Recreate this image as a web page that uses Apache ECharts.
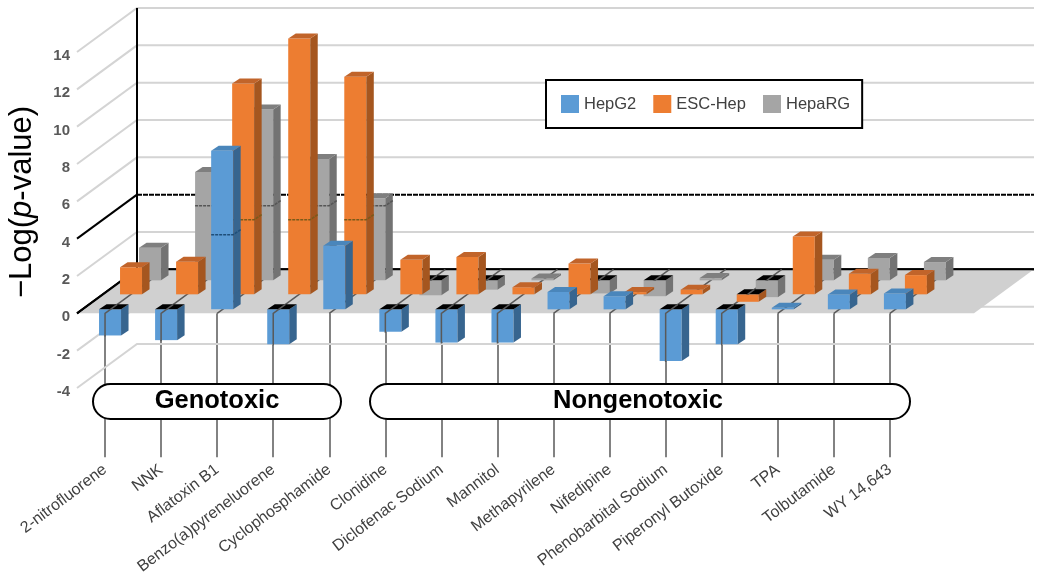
<!DOCTYPE html>
<html>
<head>
<meta charset="utf-8">
<script src="https://cdn.jsdelivr.net/npm/echarts@6/dist/echarts.min.js"></script>
<style>
  html, body { margin: 0; padding: 0; background: #fff; }
  #chart { width: 1050px; height: 584px; }
</style>
</head>
<body>
<div id="chart"></div>
<script>
// last category is blank, the original floor runs one slot past WY 14,643
const categories = ["2-nitrofluorene", "NNK", "Aflatoxin B1", "Benzo(a)pyreneluorene", "Cyclophosphamide", "Clonidine", "Diclofenac Sodium", "Mannitol", "Methapyrilene", "Nifedipine", "Phenobarbital Sodium", "Piperonyl Butoxide", "TPA", "Tolbutamide", "WY 14,643", ""];
const hepG2 = [-1.4, -1.65, 8.5, -1.87, 3.4, -1.2, -1.78, -1.78, 0.93, 0.7, -2.77, -1.87, 0.08, 0.8, 0.85];
const escHep = [1.45, 1.75, 11.3, 13.7, 11.65, 1.85, 2.0, 0.38, 1.65, 0.12, 0.25, -0.4, 3.1, 1.1, 1.03];
const hepaRG = [1.75, 5.8, 9.15, 6.5, 4.4, -0.8, -0.5, 0.1, -0.7, -0.85, 0.12, -0.9, 1.1, 1.2, 0.98];
const yTicks = [-4, -2, 0, 2, 4, 6, 8, 10, 12, 14];
const darkTicks = [0, 4];
const bandValue = 4;

const depthX = 60, depthY = -44;   // floor depth in px
const barW = 22, sideX = 7.5, sideY = -5;

function poly(points, color, extra) {
  return Object.assign({ type: "polygon", shape: { points: points }, style: { fill: color } }, extra || {});
}
function seg(points, color, width, dash) {
  return {
    type: "polyline",
    shape: { points: points },
    style: { fill: null, stroke: color, lineWidth: width, lineDash: dash || null },
  };
}

function barRenderer(look) {
  return function (params, api) {
    const i = api.value(0), v = api.value(1);
    const p0 = api.coord([i, 0]), pv = api.coord([i, v]);
    const x0 = p0[0] + look.dx, x1 = x0 + barW;
    const yBase = p0[1] + look.dy, yVal = pv[1] + look.dy;
    const yTop = Math.min(yBase, yVal), yBot = Math.max(yBase, yVal);
    const kids = [
      poly([[x0, yTop], [x1, yTop], [x1, yBot], [x0, yBot]], look.front),
      poly([[x1, yTop], [x1 + sideX, yTop + sideY], [x1 + sideX, yBot + sideY], [x1, yBot]], look.side),
      poly([[x0, yTop], [x0 + sideX, yTop + sideY], [x1 + sideX, yTop + sideY], [x1, yTop]], v < 0 ? "#000" : look.top),
    ];
    if (v > bandValue) {
      const yb = api.coord([i, bandValue])[1] + look.dy;
      kids.push(seg([[x0, yb], [x1, yb], [x1 + sideX, yb + sideY]], look.band, 1.5, [3, 1]));
    }
    if (v < 0) {
      // floor line and tick stay visible over a negative bar
      const t0 = look.dy / depthY, t1 = (look.dy + sideY) / depthY;
      const pts = [[p0[0] + depthX * t0, p0[1] + depthY * t0], [p0[0] + depthX * t1, p0[1] + depthY * t1]];
      if (look.tickOver) pts.unshift([p0[0], yBot + 1], p0);
      kids.push(seg(pts, "#595959", 1.5));
    }
    return { type: "group", children: kids };
  };
}

const chart = echarts.init(document.getElementById("chart"));

const wallSeries = {
  type: "custom",
  z: 1,
  silent: true,
  data: yTicks.map((t) => [0, t]),
  encode: { x: 0, y: 1 },
  renderItem: function (params, api) {
    const t = api.value(1);
    const sys = params.coordSys;
    const y = api.coord([0, t])[1];
    const dark = darkTicks.indexOf(t) >= 0;
    const a = [sys.x, y], b = [sys.x + depthX, y + depthY], c = [sys.x + sys.width + depthX, y + depthY];
    if (dark) {
      return {
        type: "group",
        children: [seg([a, b], "#000", 2), seg([b, c], "#000", 2, t === 4 ? [5, 1] : null)],
      };
    }
    return seg([a, b, c], "#d4d4d4", 2);
  },
};

const floorSeries = {
  type: "custom",
  z: 1,
  silent: true,
  data: [[0, 0]],
  encode: { x: 0, y: 1 },
  renderItem: function (params, api) {
    const sys = params.coordSys;
    const y0 = api.coord([0, 0])[1];
    const l = sys.x, r = sys.x + sys.width;
    const kids = [
      poly([[l + 2, y0], [r, y0], [r + depthX, y0 + depthY], [l + depthX, y0 + depthY]], "#d0d0d0"),
      seg([[l, y0], [l + depthX, y0 + depthY], [r + depthX, y0 + depthY]], "#000", 2),
      seg([[l + depthX, y0 + depthY], [l + depthX, api.coord([0, 14])[1] + depthY]], "#000", 2),
    ];
    categories.forEach(function (name, i) {
      if (!name) return;
      const p = api.coord([i, 0]);
      kids.push(seg([p, [p[0] + depthX, p[1] + depthY]], "#595959", 1.5));
    });
    return { type: "group", children: kids };
  },
};

function barSeries(name, values, z, look) {
  return {
    name: name,
    type: "custom",
    z: z,
    itemStyle: { color: look.legend },
    data: values.map((v, i) => [i, v]),
    encode: { x: 0, y: 1 },
    renderItem: barRenderer(look),
  };
}

const option = {
  animation: false,
  backgroundColor: "#fff",
  textStyle: { fontFamily: "Liberation Sans" },
  grid: { left: 77, top: 52, width: 897, height: 336, outerBoundsMode: "none" },
  legend: {
    data: ["HepG2", "ESC-Hep", "HepaRG"],
    left: 546,
    top: 80,
    orient: "horizontal",
    icon: "rect",
    itemWidth: 18,
    itemHeight: 18,
    itemGap: 17,
    padding: [15, 12, 15, 15],
    backgroundColor: "#fff",
    borderColor: "#000",
    borderWidth: 2,
    selectedMode: false,
    textStyle: { color: "#404040", fontSize: 16.5, fontFamily: "Liberation Sans" },
  },
  xAxis: {
    type: "category",
    data: categories,
    axisLine: { show: false, onZero: true },
    axisTick: {
      show: true,
      alignWithLabel: true,
      length: 144,
      interval: (idx, val) => val !== "",
      lineStyle: { color: "#595959", width: 1.5 },
    },
    axisLabel: {
      interval: 0,
      rotate: 37,
      margin: 80,
      color: "#404040",
      fontSize: 16,
      hideOverlap: false,
    },
  },
  yAxis: {
    type: "value",
    min: -4,
    max: 14,
    interval: 2,
    axisLine: { show: false },
    axisTick: { show: false },
    splitLine: { show: false },
    axisLabel: {
      margin: 7,
      formatter: "{v|{value}}",
      rich: { v: { color: "#595959", fontSize: 15, fontWeight: "bold", padding: [8, 0, 0, 0] } },
    },
    name: "{a|\u2212Log(}{b|p}{a|-value)}",
    nameLocation: "middle",
    nameGap: 39,
    nameTextStyle: {
      padding: [0, 0, 0, 36],
      rich: {
        a: { fontSize: 31, color: "#000", fontFamily: "Liberation Sans" },
        b: { fontSize: 31, color: "#000", fontStyle: "italic", fontFamily: "Liberation Sans" },
      },
    },
  },
  graphic: {
    elements: [
      { type: "rect", z: 20, shape: { x: 93, y: 384, width: 248, height: 35, r: 17.5 }, style: { fill: "#fff", stroke: "#000", lineWidth: 2 } },
      { type: "rect", z: 20, shape: { x: 370, y: 384, width: 540, height: 35, r: 17.5 }, style: { fill: "#fff", stroke: "#000", lineWidth: 2 } },
      { type: "text", z: 21, x: 217, y: 401, style: { text: "Genotoxic", fill: "#000", font: "bold 25.5px Liberation Sans", align: "center", verticalAlign: "middle" } },
      { type: "text", z: 21, x: 638, y: 401, style: { text: "Nongenotoxic", fill: "#000", font: "bold 25.5px Liberation Sans", align: "center", verticalAlign: "middle" } },
    ],
  },
  series: [
    wallSeries,
    floorSeries,
    barSeries("HepaRG", hepaRG, 2, { dx: 34, dy: -33, front: "#a5a5a5", side: "#737373", top: "#7f7f7f", band: "#555", legend: "#a5a5a5" }),
    barSeries("ESC-Hep", escHep, 3, { dx: 15, dy: -19, front: "#ed7d31", side: "#a5561f", top: "#c1642a", band: "#7a5a1a", legend: "#ed7d31" }),
    barSeries("HepG2", hepG2, 4, { dx: -6, dy: -4, tickOver: true, front: "#5b9bd5", side: "#37658f", top: "#4a86bb", band: "#1f4e79", legend: "#5b9bd5" }),
  ],
};
chart.setOption(option);
</script>
</body>
</html>
